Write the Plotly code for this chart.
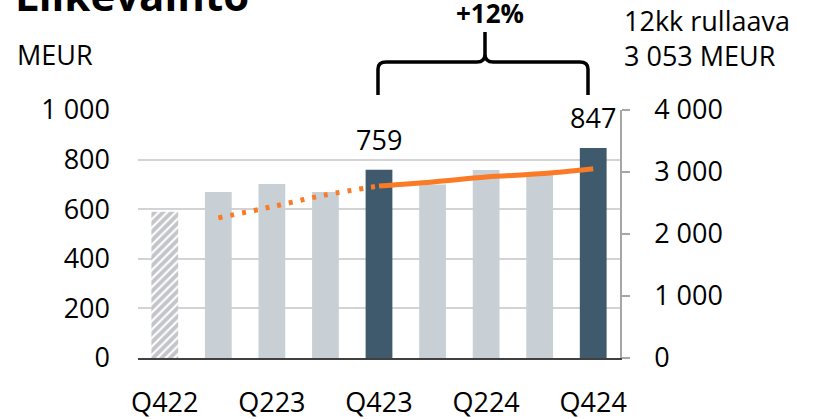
import plotly.graph_objects as go

quarters = ["Q422", "Q123", "Q223", "Q323", "Q423", "Q124", "Q224", "Q324", "Q424"]
revenue = [590, 669, 702, 669, 759, 700, 758, 740, 847]
rolling_q = ["Q123", "Q223", "Q323", "Q423", "Q124", "Q224", "Q324", "Q424"]
rolling = [2260, 2440, 2630, 2775, 2840, 2920, 2970, 3053]
shown_ticks = ["Q422", "Q223", "Q423", "Q224", "Q424"]
hatched = ["Q422"]
labelled = {"Q423": 759, "Q424": 847}

DARK = "#3e5a6c"
LIGHT = "#c8d0d6"
HATCH = "#8a8c95"
ORANGE = "#fa7a26"
FONT = "Open Sans"
FS = 27

solid_x = [q for q in quarters if q not in hatched]
solid_y = [v for q, v in zip(quarters, revenue) if q not in hatched]
hatch_y = [v for q, v in zip(quarters, revenue) if q in hatched]

fig = go.Figure()
fig.add_trace(go.Bar(
    x=solid_x, y=solid_y, width=0.5,
    marker=dict(color=[DARK if q in labelled else LIGHT for q in solid_x], line=dict(width=0)),
    hoverinfo="skip",
))
fig.add_trace(go.Bar(
    x=hatched, y=hatch_y, width=0.5,
    marker=dict(color="white", line=dict(width=0),
                pattern=dict(shape="/", fgcolor=HATCH, size=6, solidity=0.65, fillmode="overlay")),
    hoverinfo="skip",
))

split = rolling_q.index("Q423")
fig.add_trace(go.Scatter(
    x=rolling_q[:split + 1], y=rolling[:split + 1], yaxis="y2", mode="lines",
    line=dict(color=ORANGE, width=5, dash="4px,8px", shape="spline"),
))
fig.add_trace(go.Scatter(
    x=rolling_q[split:], y=rolling[split:], yaxis="y2", mode="lines",
    line=dict(color=ORANGE, width=5, shape="spline"),
))

for q, v in labelled.items():
    fig.add_annotation(x=q, y=v, text=str(v), showarrow=False, yanchor="middle",
                       yshift=30, font=dict(size=FS, color="black", family=FONT))

# curly bracket over Q423..Q424
fig.add_shape(type="path", xref="paper", yref="paper",
              path=("M 0.4979,1.0605 L 0.4979,1.165 Q 0.4979,1.1935 0.515,1.1935 "
                    "L 0.703,1.1935 Q 0.7199,1.1935 0.7199,1.225 L 0.7199,1.3145 "
                    "M 0.7199,1.225 Q 0.7199,1.1935 0.737,1.1935 "
                    "L 0.9165,1.1935 Q 0.9336,1.1935 0.9336,1.165 L 0.9336,1.0605"),
              line=dict(color="black", width=3.5))

def ann(x, y, text, size, xanchor="left"):
    fig.add_annotation(xref="paper", yref="paper", x=x, y=y, text=text, showarrow=False,
                       xanchor=xanchor, yanchor="middle",
                       font=dict(size=size, color="black", family=FONT))

ann(0.73, 1.391, "<b>+12%</b>", 26, xanchor="center")
ann(1.004, 1.359, "12kk rullaava", FS)
ann(1.004, 1.218, "3 053 MEUR", FS)
ann(-0.256, 1.222, "MEUR", FS)
ann(-0.26, 1.464, "<b>Liikevaihto</b>", 42)

fig.update_layout(
    width=813, height=419,
    margin=dict(l=138, r=193, t=110, b=61),
    paper_bgcolor="white", plot_bgcolor="white",
    showlegend=False, barmode="overlay",
    separators=", ",
    font=dict(family=FONT, size=FS, color="black"),
    xaxis=dict(
        type="category", categoryorder="array", categoryarray=quarters,
        range=[-0.5, 8.5], tickmode="array", tickvals=shown_ticks,
        showline=True, linecolor="#404040", linewidth=2, ticks="",
        showgrid=False, tickfont=dict(size=FS), ticklabelstandoff=20, automargin=False,
    ),
    yaxis=dict(
        range=[0, 1000], tickvals=[0, 200, 400, 600, 800, 1000],
        tickformat=",d", showgrid=True, gridcolor="#d3d3d6", gridwidth=1.5,
        zeroline=False, showline=False, ticks="", ticklabelstandoff=27,
        tickfont=dict(size=FS), automargin=False,
    ),
    yaxis2=dict(
        overlaying="y", side="right", range=[0, 4000],
        tickvals=[0, 1000, 2000, 3000, 4000], tickformat=",d",
        showgrid=False, zeroline=False, showline=True, linecolor="#a6a6a6", linewidth=1.5,
        ticks="outside", ticklen=8, tickcolor="#a6a6a6", tickwidth=1.5,
        ticklabelstandoff=19, tickfont=dict(size=FS), automargin=False,
    ),
)

fig.write_html("out.html", config={"displayModeBar": False},
               post_script="document.body.style.margin='0';")
